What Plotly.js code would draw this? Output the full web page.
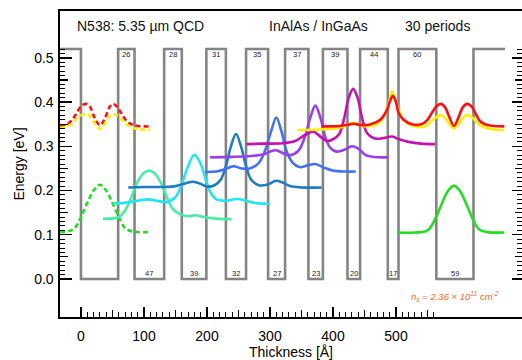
<!DOCTYPE html>
<html>
<head>
<meta charset="utf-8">
<script src="https://cdn.plot.ly/plotly-3.0.1.min.js"></script>
<style>html,body{margin:0;padding:0;background:#fff;}#chart{width:522px;height:360px;}</style>
</head>
<body>
<div id="chart"></div>
<script>
// ---- Layer structure (Å) ----
const wellWidths    = [59, 47, 39, 32, 27, 23, 20, 17];
const barrierWidths = [26, 28, 31, 35, 37, 39, 44, 60];
const barrierHeight = 0.52;   // eV
const leftBarrier = 60;       // previous period's last barrier
const tailBarrier = 50;       // part of next barrier shown

// ---- Tick values ----
const xMajorTicks = [0, 100, 200, 300, 400, 500];
const xTickText = ['0', '100', '200', '300', '400', '500'];
const yMajorTicks = [0, 0.1, 0.2, 0.3, 0.4, 0.5];
const yTickText = ['0.0', '0.1', '0.2', '0.3', '0.4', '0.5'];

// ---- Wavefunctions (energy + |psi|^2) ----
const redDashX = [-33, -25, -15, -7, 0, 8, 14, 20, 25, 30, 35, 40, 46, 51, 57, 64, 72, 80, 90, 110];
const redDashY = [0.346, 0.348, 0.358, 0.375, 0.390, 0.396, 0.390, 0.370, 0.355, 0.348, 0.355, 0.370, 0.390, 0.396, 0.390, 0.375, 0.358, 0.350, 0.346, 0.345];
const yellowDashX = [-33, -25, -15, -7, 0, 8, 14, 20, 25, 30, 35, 40, 46, 51, 57, 64, 72, 80, 90, 110];
const yellowDashY = [0.342, 0.344, 0.350, 0.362, 0.370, 0.373, 0.369, 0.356, 0.345, 0.339, 0.345, 0.356, 0.369, 0.373, 0.370, 0.362, 0.350, 0.343, 0.339, 0.338];
const greenDashX = [-33, -20, -10, 0, 10, 20, 30, 40, 50, 60, 70, 80, 90, 110];
const greenDashY = [0.106, 0.108, 0.115, 0.140, 0.172, 0.200, 0.213, 0.200, 0.172, 0.140, 0.115, 0.108, 0.106, 0.106];

const mintX = [35, 50, 60, 70, 80, 90, 100, 108, 116, 126, 136, 146, 158, 170, 182, 195, 210, 239];
const mintY = [0.136, 0.137, 0.140, 0.155, 0.185, 0.220, 0.240, 0.245, 0.240, 0.220, 0.186, 0.158, 0.146, 0.142, 0.144, 0.140, 0.137, 0.135];

const cyanX = [51, 70, 90, 105, 120, 136, 150, 160, 170, 180, 190, 198, 206, 215, 230, 248, 262, 280, 300];
const cyanY = [0.171, 0.172, 0.177, 0.180, 0.177, 0.174, 0.185, 0.215, 0.255, 0.281, 0.260, 0.225, 0.195, 0.180, 0.177, 0.181, 0.177, 0.171, 0.170];

const steelX = [75, 100, 130, 150, 165, 178, 190, 200, 212, 222, 230, 238, 246, 254, 262, 270, 282, 295, 310, 320, 332, 350, 382];
const steelY = [0.207, 0.208, 0.208, 0.210, 0.216, 0.220, 0.215, 0.209, 0.212, 0.225, 0.255, 0.300, 0.328, 0.300, 0.255, 0.225, 0.212, 0.213, 0.222, 0.218, 0.210, 0.207, 0.207];

const blueX = [197, 215, 228, 242, 255, 268, 282, 292, 302, 310, 318, 326, 335, 347, 360, 372, 385, 400, 420, 436];
const blueY = [0.242, 0.243, 0.248, 0.255, 0.250, 0.250, 0.262, 0.290, 0.335, 0.365, 0.335, 0.290, 0.265, 0.253, 0.257, 0.260, 0.252, 0.245, 0.243, 0.243];

const purpleX = [205, 240, 270, 290, 300, 310, 320, 332, 345, 355, 364, 372, 380, 388, 396, 406, 418, 430, 440, 452, 465, 488];
const purpleY = [0.275, 0.276, 0.278, 0.282, 0.288, 0.291, 0.285, 0.280, 0.290, 0.320, 0.365, 0.392, 0.365, 0.320, 0.296, 0.288, 0.292, 0.300, 0.295, 0.280, 0.276, 0.275];

const magentaX = [263, 290, 320, 340, 355, 369, 380, 390, 400, 410, 418, 425, 432, 439, 446, 454, 465, 478, 494, 505, 520, 540, 562];
const magentaY = [0.305, 0.306, 0.307, 0.312, 0.325, 0.333, 0.322, 0.312, 0.316, 0.328, 0.365, 0.410, 0.430, 0.410, 0.365, 0.330, 0.318, 0.318, 0.322, 0.316, 0.310, 0.306, 0.305];

const redX = [382, 410, 425, 432, 445, 460, 475, 485, 490, 495, 500, 504, 512, 525, 540, 550, 558, 564, 571, 578, 585, 592, 599, 606, 613, 620, 626, 634, 645, 672];
const redY = [0.345, 0.346, 0.349, 0.351, 0.348, 0.350, 0.360, 0.380, 0.400, 0.414, 0.400, 0.376, 0.360, 0.350, 0.350, 0.360, 0.378, 0.390, 0.396, 0.388, 0.365, 0.346, 0.365, 0.388, 0.396, 0.390, 0.375, 0.356, 0.348, 0.345];

const yellowX = [343, 380, 410, 425, 432, 440, 455, 470, 480, 488, 494, 500, 506, 515, 530, 545, 555, 563, 571, 579, 586, 592, 598, 605, 613, 621, 630, 640, 655, 672];
const yellowY = [0.337, 0.338, 0.342, 0.350, 0.353, 0.350, 0.345, 0.350, 0.365, 0.395, 0.424, 0.400, 0.375, 0.355, 0.345, 0.345, 0.355, 0.365, 0.371, 0.362, 0.348, 0.341, 0.348, 0.362, 0.371, 0.365, 0.352, 0.343, 0.338, 0.337];

const greenX = [503, 530, 550, 562, 572, 582, 592, 602, 612, 622, 632, 645, 672];
const greenY = [0.105, 0.105, 0.110, 0.135, 0.168, 0.198, 0.211, 0.198, 0.168, 0.135, 0.112, 0.106, 0.105];

// ---- Build band profile from layer widths ----
const bandX = [-leftBarrier, 0, 0];
const bandY = [barrierHeight, barrierHeight, 0];
const barrierLabels = [], wellLabels = [];
let pos = 0;
for (let i = 0; i < wellWidths.length; i++) {
  const w = wellWidths[i], b = barrierWidths[i];
  if (i > 0) wellLabels.push({x: pos + w / 2, t: String(w)});
  pos += w;
  bandX.push(pos, pos); bandY.push(0, barrierHeight);
  barrierLabels.push({x: pos + b / 2, t: String(b)});
  pos += b;
  bandX.push(pos, pos); bandY.push(barrierHeight, 0);
}
wellLabels.push({x: pos + wellWidths[0] / 2, t: String(wellWidths[0])});
pos += wellWidths[0];
bandX.push(pos, pos, pos + tailBarrier); bandY.push(0, barrierHeight, barrierHeight);

// ---- Tick helper arrays ----
const xMinor = [], xMid = [];
for (let k = 1; k <= 56; k++) { const v = k * 10; if (v % 100 === 0) continue; if (v % 50 === 0) xMid.push(v); else xMinor.push(v); }
const yMinor = [], yMid = [];
for (let k = 1; k <= 52; k++) { const v = k / 100; if (k % 10 === 0) continue; if (k % 5 === 0) yMid.push(v); else yMinor.push(v); }

const lw = 2.6;
function wf(x, y, color, dash) {
  return {x: x, y: y, type: 'scatter', mode: 'lines', hoverinfo: 'skip',
    line: {color: color, width: lw, shape: 'spline', smoothing: 1, dash: dash || 'solid'}};
}
const dashPat = '5px,3px';
const traces = [
  {x: bandX, y: bandY, type: 'scatter', mode: 'lines', hoverinfo: 'skip', line: {color: '#858585', width: 2.6}},
  wf(greenDashX, greenDashY, '#22dd22', dashPat),
  wf(mintX, mintY, '#45eea0'),
  wf(cyanX, cyanY, '#22e6f2'),
  wf(steelX, steelY, '#1f7cc0'),
  wf(blueX, blueY, '#4272f0'),
  wf(purpleX, purpleY, '#9a40ea'),
  wf(magentaX, magentaY, '#c412b0'),
  wf(redDashX, redDashY, '#ff1010', dashPat),
  wf(yellowDashX, yellowDashY, '#ffee00', dashPat),
  wf(yellowX, yellowY, '#ffee00'),
  wf(redX, redY, '#ff1010'),
  wf(greenX, greenY, '#22dd22'),
  {x: [], y: [], type: 'scatter', mode: 'lines', xaxis: 'x2', yaxis: 'y', hoverinfo: 'skip'},
  {x: [], y: [], type: 'scatter', mode: 'lines', xaxis: 'x', yaxis: 'y2', hoverinfo: 'skip'},
  {x: [], y: [], type: 'scatter', mode: 'lines', xaxis: 'x', yaxis: 'y3', hoverinfo: 'skip'},
  {x: [], y: [], type: 'scatter', mode: 'lines', xaxis: 'x', yaxis: 'y4', hoverinfo: 'skip'}
];

const font = 'Liberation Sans, Arial, Helvetica, sans-serif';
const xr = [-33.3, 700], yr = [-0.086, 0.606];
const annotations = [
  {xref: 'paper', yref: 'paper', x: 0.032, y: 0.951, xanchor: 'left', yanchor: 'middle', showarrow: false, text: 'N538: 5.35 µm QCD', font: {size: 14, color: '#111'}},
  {xref: 'paper', yref: 'paper', x: 0.448, y: 0.951, xanchor: 'left', yanchor: 'middle', showarrow: false, text: 'InAlAs / InGaAs', font: {size: 14, color: '#111'}},
  {xref: 'paper', yref: 'paper', x: 0.742, y: 0.951, xanchor: 'left', yanchor: 'middle', showarrow: false, text: '30 periods', font: {size: 14, color: '#111'}},
  {xref: 'x', yref: 'y', x: 594, y: -0.039, xanchor: 'center', yanchor: 'middle', showarrow: false,
   text: '<i>n<sub>s</sub> = 2.36 × 10<sup>11</sup> cm<sup>-2</sup></i>', font: {size: 9.5, color: '#ee6a2e'}}
];
barrierLabels.forEach(l => annotations.push({xref: 'x', yref: 'y', x: l.x, y: 0.507, text: l.t, showarrow: false, xanchor: 'center', yanchor: 'middle', font: {size: 7.5, color: '#222'}}));
wellLabels.forEach(l => annotations.push({xref: 'x', yref: 'y', x: l.x, y: 0.012, text: l.t, showarrow: false, xanchor: 'center', yanchor: 'middle', font: {size: 7.5, color: '#222'}}));

const hidden = {showgrid: false, zeroline: false, showline: false, showticklabels: false, ticks: 'inside', tickcolor: '#000'};
const layout = {
  width: 522, height: 360,
  margin: {l: 60, r: 0, t: 11, b: 43, pad: 0},
  paper_bgcolor: '#fff', plot_bgcolor: '#fff',
  showlegend: false,
  font: {family: font, color: '#000', size: 14},
  xaxis: {range: xr, tickmode: 'array', tickvals: xMajorTicks, ticktext: xTickText, ticks: 'inside', ticklen: 10, tickwidth: 1.3, tickcolor: '#000',
    showline: true, linecolor: '#000', linewidth: 1.6, mirror: true, showgrid: false, zeroline: false,
    ticklabelstandoff: 6,
    tickfont: {size: 14}, title: {text: 'Thickness [Å]', font: {size: 14}, standoff: 3},
    minor: {tickmode: 'array', tickvals: xMinor, ticks: 'inside', ticklen: 5, tickwidth: 1, tickcolor: '#000', showgrid: false}},
  xaxis2: Object.assign({range: xr, overlaying: 'x', anchor: 'y', tickmode: 'array', tickvals: xMid, ticklen: 7, tickwidth: 1.1}, hidden),
  yaxis: {range: yr, tickmode: 'array', tickvals: yMajorTicks, ticktext: yTickText, ticks: 'inside', ticklen: 12, tickwidth: 1.3, tickcolor: '#000',
    showline: true, linecolor: '#000', linewidth: 1.6, mirror: false, showgrid: false, zeroline: false,
    ticklabelstandoff: 2,
    tickfont: {size: 14}, title: {text: 'Energy [eV]', font: {size: 14}, standoff: 6},
    minor: {tickmode: 'array', tickvals: yMinor, ticks: 'inside', ticklen: 5, tickwidth: 1, tickcolor: '#000', showgrid: false}},
  yaxis2: Object.assign({range: yr, overlaying: 'y', anchor: 'x', side: 'left', tickmode: 'array', tickvals: yMid, ticklen: 8, tickwidth: 1.1}, hidden),
  yaxis3: Object.assign({range: yr, overlaying: 'y', anchor: 'x', side: 'right', tickmode: 'array', tickvals: yMajorTicks, ticklen: 10, tickwidth: 1.3,
    minor: {tickmode: 'array', tickvals: yMinor, ticks: 'inside', ticklen: 5, tickwidth: 1, tickcolor: '#000', showgrid: false}}, hidden),
  yaxis4: Object.assign({range: yr, overlaying: 'y', anchor: 'x', side: 'right', tickmode: 'array', tickvals: yMid, ticklen: 7, tickwidth: 1.1}, hidden),
  annotations: annotations
};

Plotly.newPlot('chart', traces, layout, {staticPlot: true, displayModeBar: false});
</script>
</body>
</html>
